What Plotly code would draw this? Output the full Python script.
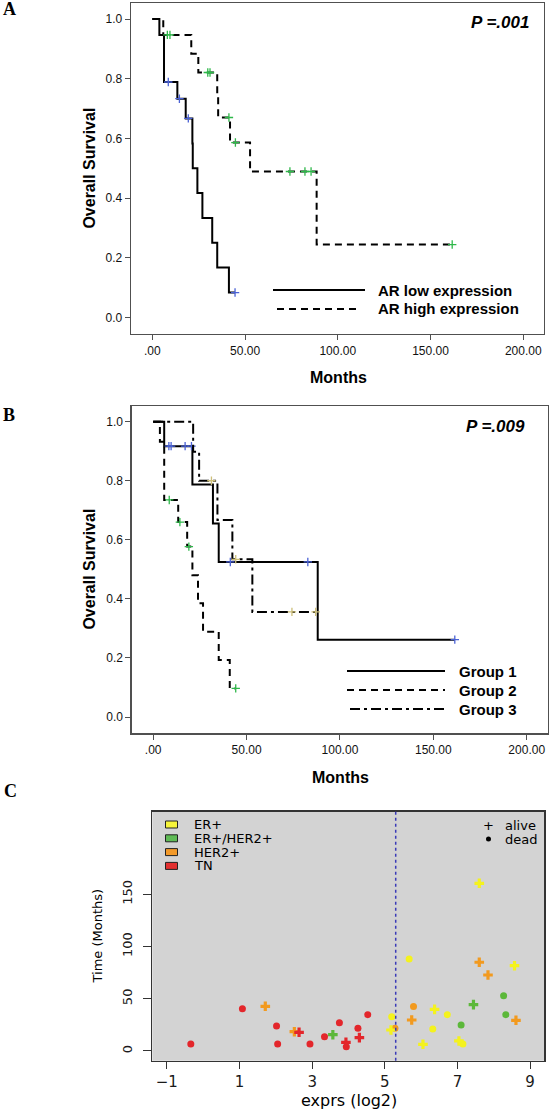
import plotly.graph_objects as go

W, H = 550, 1119


def px(x):
    return x / W


def py(y):
    return 1 - y / H


# ---------------- data ----------------
months_ticks = [0, 50, 100, 150, 200]
months_ticktext = ['.00', '50.00', '100.00', '150.00', '200.00']
surv_ticks = [0.0, 0.2, 0.4, 0.6, 0.8, 1.0]
surv_ticktext = ['0.0', '0.2', '0.4', '0.6', '0.8', '1.0']

# Panel A: AR low / high expression (Kaplan-Meier)
ar_low_event_t = [3.8, 6.3, 13.5, 18.0, 21.6, 21.8, 24.3, 27.0, 32.3, 35.0, 41.3]
ar_low_event_s = [0.947, 0.789, 0.733, 0.667, 0.583, 0.500, 0.417, 0.333, 0.250, 0.167, 0.083]
ar_low_cens_t = [8.6, 14.6, 19.4, 44.6]

ar_high_event_t = [5.9, 21.0, 24.8, 35.0, 35.5, 41.9, 52.7, 88.6]
ar_high_event_s = [0.947, 0.884, 0.821, 0.745, 0.670, 0.586, 0.489, 0.244]
ar_high_cens_t = [8.1, 9.5, 29.9, 31.1, 41.3, 44.8, 74.2, 82.3, 85.6, 161.7]

# Panel B: groups 1-3
g1_event_t = [5.9, 21.0, 32.0, 35.1, 88.1]
g1_event_s = [0.917, 0.787, 0.655, 0.525, 0.262]
g1_cens_t = [8.4, 9.6, 17.1, 20.5, 41.3, 82.8, 161.5]

g2_event_t = [3.6, 5.9, 13.4, 18.2, 21.0, 24.0, 26.7, 35.1, 41.0]
g2_event_s = [0.932, 0.735, 0.660, 0.577, 0.480, 0.385, 0.289, 0.193, 0.097]
g2_cens_t = [8.6, 14.3, 19.1, 44.2]

g3_event_t = [21.4, 24.6, 34.4, 42.4, 53.1]
g3_event_s = [0.898, 0.800, 0.667, 0.534, 0.356]
g3_cens_t = [31.2, 44.2, 74.3, 87.0]

# Panel C: expression vs time
subtypes = ['ER+', 'ER+/HER2+', 'HER2+', 'TN']
expr_dead = [-0.34, 1.08, 2.02, 2.05, 2.94, 3.34, 3.75, 3.94, 4.26, 4.53,
             5.19, 5.28, 5.67, 5.79, 6.32, 6.72, 7.10, 8.27, 8.33, 7.15]
time_dead = [6.7, 40.5, 24.0, 6.7, 6.7, 13.7, 27.1, 4.1, 21.7, 34.8,
             32.9, 21.7, 88.1, 42.5, 21.1, 34.8, 24.9, 53.0, 34.8, 6.7]
type_dead = ['TN', 'TN', 'TN', 'TN', 'TN', 'TN', 'TN', 'TN', 'TN', 'TN',
             'ER+', 'HER2+', 'ER+', 'HER2+', 'ER+', 'ER+', 'ER+/HER2+', 'ER+/HER2+', 'ER+/HER2+', 'ER+']
expr_alive = [1.71, 2.51, 2.64, 3.57, 3.93, 4.30, 5.17, 5.74, 6.05, 6.37,
              7.04, 7.44, 7.60, 7.84, 8.57, 8.61, 7.60]
time_alive = [42.8, 18.5, 17.9, 15.6, 8.3, 12.8, 20.1, 29.7, 6.4, 39.9,
              9.6, 44.4, 85.0, 72.8, 81.7, 29.4, 160.6]
type_alive = ['HER2+', 'HER2+', 'TN', 'ER+/HER2+', 'TN', 'TN', 'ER+', 'HER2+', 'ER+', 'ER+',
              'ER+', 'ER+/HER2+', 'HER2+', 'HER2+', 'ER+', 'HER2+', 'ER+']
cutoff = 5.3
expr_ticks = [-1, 1, 3, 5, 7, 9]
time_ticks = [0, 50, 100, 150]

# ---------------- styles ----------------
ARIAL = 'Arial, Liberation Sans, sans-serif'
DEJA = 'DejaVu Sans, sans-serif'
SERIF = 'Liberation Serif, Times New Roman, serif'
DASH = '7px,5px'
DASHDOT = '10px,4px,3px,4px'
sub_colors = {'ER+': '#f4f21e', 'ER+/HER2+': '#5cb83a', 'HER2+': '#f29a1f', 'TN': '#e3262b'}
legend_colors = {'ER+': '#f6f43a', 'ER+/HER2+': '#5fbb55', 'HER2+': '#f39a2a', 'TN': '#e23030'}

fig = go.Figure()


def km(event_t, event_s, cens_t, dash, ccolor, xa, ya):
    def surv_at(t):
        s = 1.0
        for et, es in zip(event_t, event_s):
            if et <= t:
                s = es
        return s
    end = max(event_t + cens_t)
    xs = [0] + event_t + [end]
    ys = [1.0] + event_s + [surv_at(end)]
    fig.add_trace(go.Scatter(x=xs, y=ys, mode='lines', xaxis=xa, yaxis=ya,
                             line=dict(shape='hv', color='black', width=2, dash=dash),
                             hoverinfo='skip'))
    fig.add_trace(go.Scatter(x=cens_t, y=[surv_at(t) for t in cens_t], mode='markers',
                             xaxis=xa, yaxis=ya,
                             marker=dict(symbol='cross-thin', size=6, color=ccolor,
                                         line=dict(color=ccolor, width=1.3))))


km(ar_low_event_t, ar_low_event_s, ar_low_cens_t, 'solid', '#4a62d6', 'x', 'y')
km(ar_high_event_t, ar_high_event_s, ar_high_cens_t, DASH, '#2fb84a', 'x', 'y')

km(g1_event_t, g1_event_s, g1_cens_t, 'solid', '#4a62d6', 'x2', 'y2')
km(g3_event_t, g3_event_s, g3_cens_t, DASHDOT, '#cdbf7a', 'x2', 'y2')
km(g2_event_t, g2_event_s, g2_cens_t, DASH, '#2fb84a', 'x2', 'y2')

# Panel C scatter
for st in subtypes:
    xd = [x for x, t in zip(expr_dead, type_dead) if t == st]
    yd = [y for y, t in zip(time_dead, type_dead) if t == st]
    fig.add_trace(go.Scatter(x=xd, y=yd, mode='markers', xaxis='x3', yaxis='y3',
                             marker=dict(symbol='circle', size=7, color=sub_colors[st],
                                         line=dict(width=0))))
for st in subtypes:
    xa_ = [x for x, t in zip(expr_alive, type_alive) if t == st]
    ya_ = [y for y, t in zip(time_alive, type_alive) if t == st]
    fig.add_trace(go.Scatter(x=xa_, y=ya_, mode='markers', xaxis='x3', yaxis='y3',
                             marker=dict(symbol='cross', size=8, color=sub_colors[st],
                                         line=dict(width=0))))

km_axis_common = dict(showline=True, mirror=True, linecolor='#505050', linewidth=1.3,
                      ticks='outside', tickcolor='#505050', ticklen=5, tickwidth=1,
                      showgrid=False, zeroline=False,
                      tickfont=dict(family=ARIAL, size=12, color='#111111'))

fig.update_layout(
    width=W, height=H, margin=dict(l=0, r=0, t=0, b=0),
    paper_bgcolor='white', plot_bgcolor='white', showlegend=False,
    xaxis=dict(domain=[px(131), px(544)], range=[-11.5, 211.2], anchor='y',
               tickvals=months_ticks, ticktext=months_ticktext, **km_axis_common),
    yaxis=dict(domain=[py(334), py(3)], range=[-0.056, 1.054], anchor='x',
               tickvals=surv_ticks, ticktext=surv_ticktext, **km_axis_common),
    xaxis2=dict(domain=[px(131.7), px(548)], range=[-11.5, 211.4], anchor='y2',
                tickvals=months_ticks, ticktext=months_ticktext, **km_axis_common),
    yaxis2=dict(domain=[py(733.3), py(406)], range=[-0.055, 1.053], anchor='x2',
                tickvals=surv_ticks, ticktext=surv_ticktext, **km_axis_common),
    xaxis3=dict(domain=[px(152.3), px(544.3)], range=[-1.40, 9.39], anchor='y3',
                tickvals=expr_ticks, showline=True, mirror=True, linecolor='#333333',
                linewidth=1.5, ticks='outside', ticklen=7, tickcolor='#333333',
                showgrid=False, zeroline=False,
                tickfont=dict(family=DEJA, size=15, color='#1a1a1a')),
    yaxis3=dict(domain=[py(1060.7), py(811.7)], range=[-9.3, 229.2], anchor='x3',
                tickvals=time_ticks, tickangle=-90, showline=True, mirror=True,
                linecolor='#333333', linewidth=1.5, ticks='outside', ticklen=8,
                tickcolor='#333333', showgrid=False, zeroline=False,
                ticklabelstandoff=6,
                tickfont=dict(family=DEJA, size=13, color='#1a1a1a')),
)

shapes = []
# gray background of panel C
shapes.append(dict(type='rect', xref='x3 domain', yref='y3 domain', x0=0, x1=1, y0=0, y1=1,
                   fillcolor='#d3d3d3', line=dict(width=0), layer='below'))
# cutoff line
shapes.append(dict(type='line', xref='x3', yref='y3 domain', x0=cutoff, x1=cutoff, y0=0, y1=1,
                   line=dict(color='#3a3ab8', width=1.5, dash='dot')))
# legend A
shapes.append(dict(type='line', xref='paper', yref='paper', x0=px(273), x1=px(365),
                   y0=py(290), y1=py(290), line=dict(color='black', width=2)))
shapes.append(dict(type='line', xref='paper', yref='paper', x0=px(277), x1=px(360),
                   y0=py(309), y1=py(309), line=dict(color='black', width=2, dash=DASH)))
# legend B
shapes.append(dict(type='line', xref='paper', yref='paper', x0=px(347), x1=px(445),
                   y0=py(671), y1=py(671), line=dict(color='black', width=2)))
shapes.append(dict(type='line', xref='paper', yref='paper', x0=px(347), x1=px(445),
                   y0=py(690), y1=py(690), line=dict(color='black', width=2, dash=DASH)))
shapes.append(dict(type='line', xref='paper', yref='paper', x0=px(350), x1=px(447),
                   y0=py(709), y1=py(709), line=dict(color='black', width=2, dash=DASHDOT)))
# legend C keys
for i, st in enumerate(subtypes):
    yc = 824.5 + 13.8 * i
    shapes.append(dict(type='rect', xref='paper', yref='paper', x0=px(165.5), x1=px(177.5),
                       y0=py(yc + 3.5), y1=py(yc - 3.5), fillcolor=legend_colors[st],
                       line=dict(color='#222222', width=1)))
shapes.append(dict(type='circle', xref='paper', yref='paper', x0=px(486), x1=px(491),
                   y0=py(841.5), y1=py(836.5), fillcolor='black', line=dict(width=0)))
fig.update_layout(shapes=shapes)

ann = []


def text(x, y, s, size, family=ARIAL, xanchor='center', angle=0, color='black'):
    ann.append(dict(x=px(x), y=py(y), xref='paper', yref='paper', text=s, showarrow=False,
                    xanchor=xanchor, yanchor='middle', textangle=angle,
                    font=dict(family=family, size=size, color=color)))


text(9, 9.5, '<b>A</b>', 18, SERIF)
text(9, 415, '<b>B</b>', 18, SERIF)
text(10, 791, '<b>C</b>', 18, SERIF)

text(531, 22, '<b><i>P =.001</i></b>', 17, xanchor='right')
text(527, 426, '<b><i>P =.009</i></b>', 17, xanchor='right')

text(88.6, 168, '<b>Overall Survival</b>', 16, angle=-90)
text(88.6, 569, '<b>Overall Survival</b>', 16, angle=-90)
text(338, 377, '<b>Months</b>', 16)
text(340, 777, '<b>Months</b>', 16)

text(375.5, 290, '<b>AR low expression</b>', 15, xanchor='left')
text(375.5, 309, '<b>AR high expression</b>', 15, xanchor='left')
text(456.5, 671, '<b>Group 1</b>', 15, xanchor='left')
text(456.5, 690, '<b>Group 2</b>', 15, xanchor='left')
text(456.5, 709, '<b>Group 3</b>', 15, xanchor='left')

for i, st in enumerate(subtypes):
    text(191.5, 824.5 + 13.8 * i, st, 13, DEJA, xanchor='left')
text(488.5, 825, '+', 13, DEJA)
text(503, 825, 'alive', 13, DEJA, xanchor='left')
text(503, 839, 'dead', 13, DEJA, xanchor='left')

text(348.5, 1100, 'exprs (log2)', 16, DEJA)
text(96.5, 936, 'Time (Months)', 13, DEJA, angle=-90)

fig.update_layout(annotations=ann)

fig.write_html('out.html',
               config={'displayModeBar': False, 'staticPlot': True},
               post_script="document.body.style.margin='0px';"
                           "document.body.style.padding='0px';"
                           "document.body.style.overflow='hidden';")
